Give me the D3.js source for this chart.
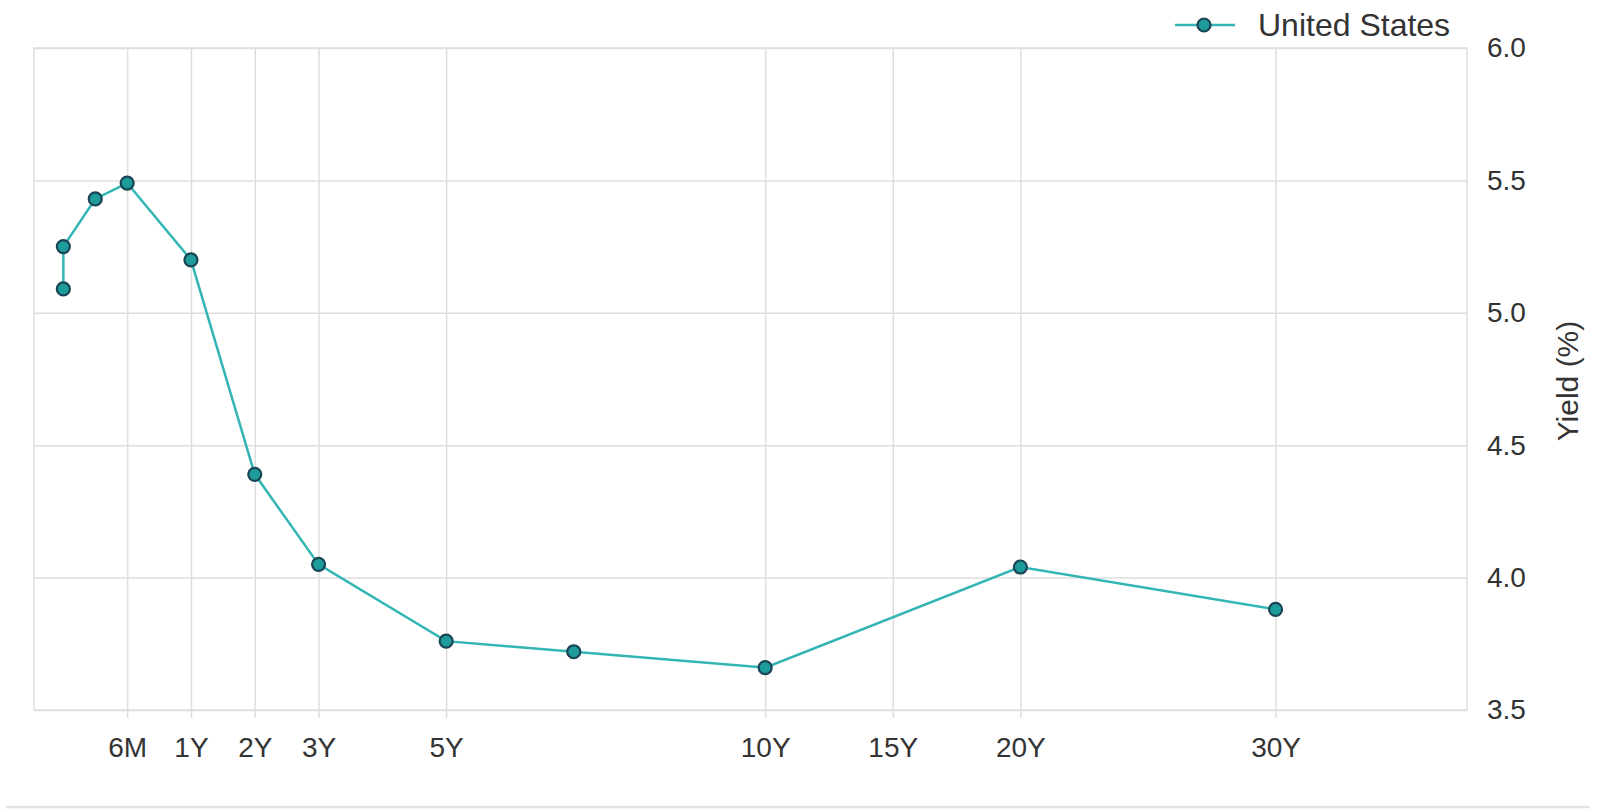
<!DOCTYPE html>
<html>
<head>
<meta charset="utf-8">
<script src="https://cdn.jsdelivr.net/npm/d3@7"></script>
<style>
  html, body { margin: 0; padding: 0; background: #fff; }
  #chart { width: 1606px; height: 811px; }
  text { font-family: "Liberation Sans", Arial, sans-serif; fill: #333; }
  .grid line, .grid path { stroke: #dedede; stroke-width: 1.5; }
</style>
</head>
<body>
<div id="chart"></div>
<script>
// tenors and their place on the x axis
var tenors = ["1M", "2M", "3M", "6M", "1Y", "2Y", "3Y", "5Y", "7Y", "10Y", "20Y", "30Y"];
var tenorPos = [0, 0, 0.5, 1, 2, 3, 4, 6, 8, 11, 15, 19];
// yield (%)
var yields = [5.09, 5.25, 5.43, 5.49, 5.20, 4.39, 4.05, 3.76, 3.72, 3.66, 4.04, 3.88];

// axis ticks
var xTickPos = [1, 2, 3, 4, 6, 11, 13, 15, 19];
var xTickLabels = ["6M", "1Y", "2Y", "3Y", "5Y", "10Y", "15Y", "20Y", "30Y"];
var yTicks = [3.5, 4.0, 4.5, 5.0, 5.5, 6.0];

var seriesName = "United States";

var width = 1606, height = 811;
var plot = {left: 34, right: 1467, top: 48, bottom: 710};

var svg = d3.select("#chart").append("svg")
    .attr("width", width)
    .attr("height", height);

var x = d3.scaleLinear()
    .domain([-0.46, 22.0])
    .range([plot.left, plot.right]);

var y = d3.scaleLinear()
    .domain([3.5, 6.0])
    .range([plot.bottom, plot.top]);

//horizontal grid
svg.append("g")
    .attr("class", "grid")
    .attr("transform", "translate(" + plot.left + ",0)")
    .call(d3.axisRight(y).tickValues(yTicks).tickSize(plot.right - plot.left).tickFormat(""))
    .call(function(g) { g.select(".domain").remove(); });

//vertical grid
svg.append("g")
    .attr("class", "grid")
    .attr("transform", "translate(0," + plot.top + ")")
    .call(d3.axisBottom(x).tickValues(xTickPos).tickSize(plot.bottom - plot.top + 8).tickFormat(""))
    .call(function(g) { g.select(".domain").remove(); });

//plot border
svg.append("rect")
    .attr("x", plot.left)
    .attr("y", plot.top)
    .attr("width", plot.right - plot.left)
    .attr("height", plot.bottom - plot.top)
    .attr("fill", "none")
    .attr("stroke", "#dedede")
    .attr("stroke-width", 1.5);

//x axis labels
var xAxis = svg.append("g")
    .attr("transform", "translate(0," + plot.bottom + ")")
    .call(d3.axisBottom(x).tickValues(xTickPos).tickSize(0).tickPadding(27)
      .tickFormat(function(d, i) { return xTickLabels[i]; }));
xAxis.select(".domain").remove();
xAxis.selectAll("text")
    .style("font-size", "28px")
    .style("font-family", "'Liberation Sans', Arial, sans-serif")
    .attr("fill", "#333");

//y axis labels on the right
var yAxis = svg.append("g")
    .attr("transform", "translate(" + plot.right + ",0)")
    .call(d3.axisRight(y).tickValues(yTicks).tickSize(0).tickPadding(20)
      .tickFormat(d3.format(".1f")));
yAxis.select(".domain").remove();
yAxis.selectAll("text")
    .style("font-size", "28px")
    .style("font-family", "'Liberation Sans', Arial, sans-serif")
    .attr("fill", "#333");

//y axis title
svg.append("text")
    .attr("transform", "translate(1578,381) rotate(-90)")
    .attr("text-anchor", "middle")
    .style("font-size", "30px")
    .text("Yield (%)");

var points = tenors.map(function(t, i) {
  return {tenor: t, pos: tenorPos[i], value: yields[i]};
});

var line = d3.line()
    .x(function(d) { return x(d.pos); })
    .y(function(d) { return y(d.value); });

svg.append("path")
    .datum(points)
    .attr("fill", "none")
    .attr("stroke", "#33b5b5")
    .attr("stroke-width", 2.5)
    .attr("d", line);

svg.selectAll(".dot")
    .data(points)
    .enter().append("circle")
    .attr("class", "dot")
    .attr("cx", function(d) { return x(d.pos); })
    .attr("cy", function(d) { return y(d.value); })
    .attr("r", 6.5)
    .attr("fill", "#1e9c9c")
    .attr("stroke", "#1a4555")
    .attr("stroke-width", 2.2);

//legend
var legend = svg.append("g").attr("transform", "translate(1175,25)");
legend.append("line")
    .attr("x1", 0).attr("x2", 60)
    .attr("stroke", "#33b5b5")
    .attr("stroke-width", 2.5);
legend.append("circle")
    .attr("cx", 29).attr("r", 6.5)
    .attr("fill", "#1e9c9c")
    .attr("stroke", "#1a4555")
    .attr("stroke-width", 2.2);
legend.append("text")
    .attr("x", 83)
    .attr("y", 11)
    .style("font-size", "32px")
    .text(seriesName);

//bottom separator
svg.append("line")
    .attr("x1", 6).attr("x2", 1590)
    .attr("y1", 807).attr("y2", 807)
    .attr("stroke", "#e4e4e4")
    .attr("stroke-width", 2.5);
</script>
</body>
</html>
